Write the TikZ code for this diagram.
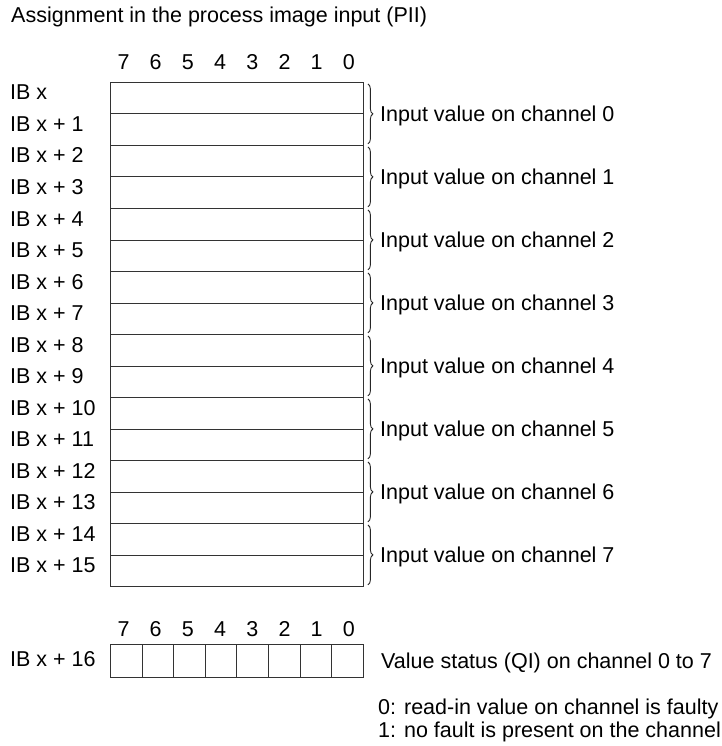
\documentclass[tikz,border=0pt]{standalone}
\usepackage{fontspec}
\setmainfont{Liberation Sans}
\usetikzlibrary{decorations.pathreplacing}

\begin{document}
\begin{tikzpicture}[x=1pt,y=-1pt,
    lbl/.style={inner sep=0pt,anchor=base west,font=\fontsize{21.5}{25}\selectfont},
    num/.style={inner sep=0pt,anchor=base,font=\fontsize{21.5}{25}\selectfont},
    bytebox/.style={draw=black!80,line width=0.9pt,minimum width=253pt,
      minimum height=31.5pt,inner sep=0pt,anchor=north west},
    bitcell/.style={draw=black!80,line width=0.9pt,minimum width=31.6pt,
      minimum height=33pt,inner sep=0pt,anchor=north west},
    brc/.style={draw=black!85,line width=0.9pt,
      decorate,decoration={brace,amplitude=5pt}}]
    \useasboundingbox (0,0) rectangle (721,746);
    \node[lbl] (title) at (11,22.5)
      {Assignment in the process image input (PII)};
    % bit numbers
    \foreach \b [count=\k from 0] in {7,6,5,4,3,2,1,0}
      \node[num] (top\b) at ({123.5+32.2*\k},70) {\b};
    % input bytes
    \foreach \i in {0,...,15} {
      \node[bytebox] (r\i) at (110,{82+31.5*\i}) {};
      \node[lbl] (ib\i) at (10,{100+31.5*\i})
        {IB x\ifnum\i>0{} + \i\fi};
    }
    % channels
    \foreach \c [evaluate=\c as \a using int(2*\c),
                 evaluate=\c as \e using int(2*\c+1)] in {0,...,7} {
      \path[brc] ([xshift=4pt,yshift=-2pt]r\a.north east)
        -- ([xshift=4pt,yshift=2pt]r\e.south east);
      \node[lbl] (ch\c) at (380,{121.5+63*\c})
        {Input value on channel \c};
    }
    % status byte
    \foreach \b [count=\k from 0] in {7,6,5,4,3,2,1,0} {
      \node[num] (bot\b) at ({123.5+32.2*\k},636) {\b};
      \node[bitcell] (q\b) at ({110+31.6*\k},644) {};
    }
    \node[lbl] (ib16) at (10,666) {IB x + 16};
    \node[lbl] (qi) at (381,668)
      {Value status (QI) on channel 0 to 7};
    \node[lbl] (n0) at (378,714)
      {0: read-in value on channel is faulty};
    \node[lbl] (n1) at (378,737)
      {1: no fault is present on the channel};
\end{tikzpicture}
\end{document}
